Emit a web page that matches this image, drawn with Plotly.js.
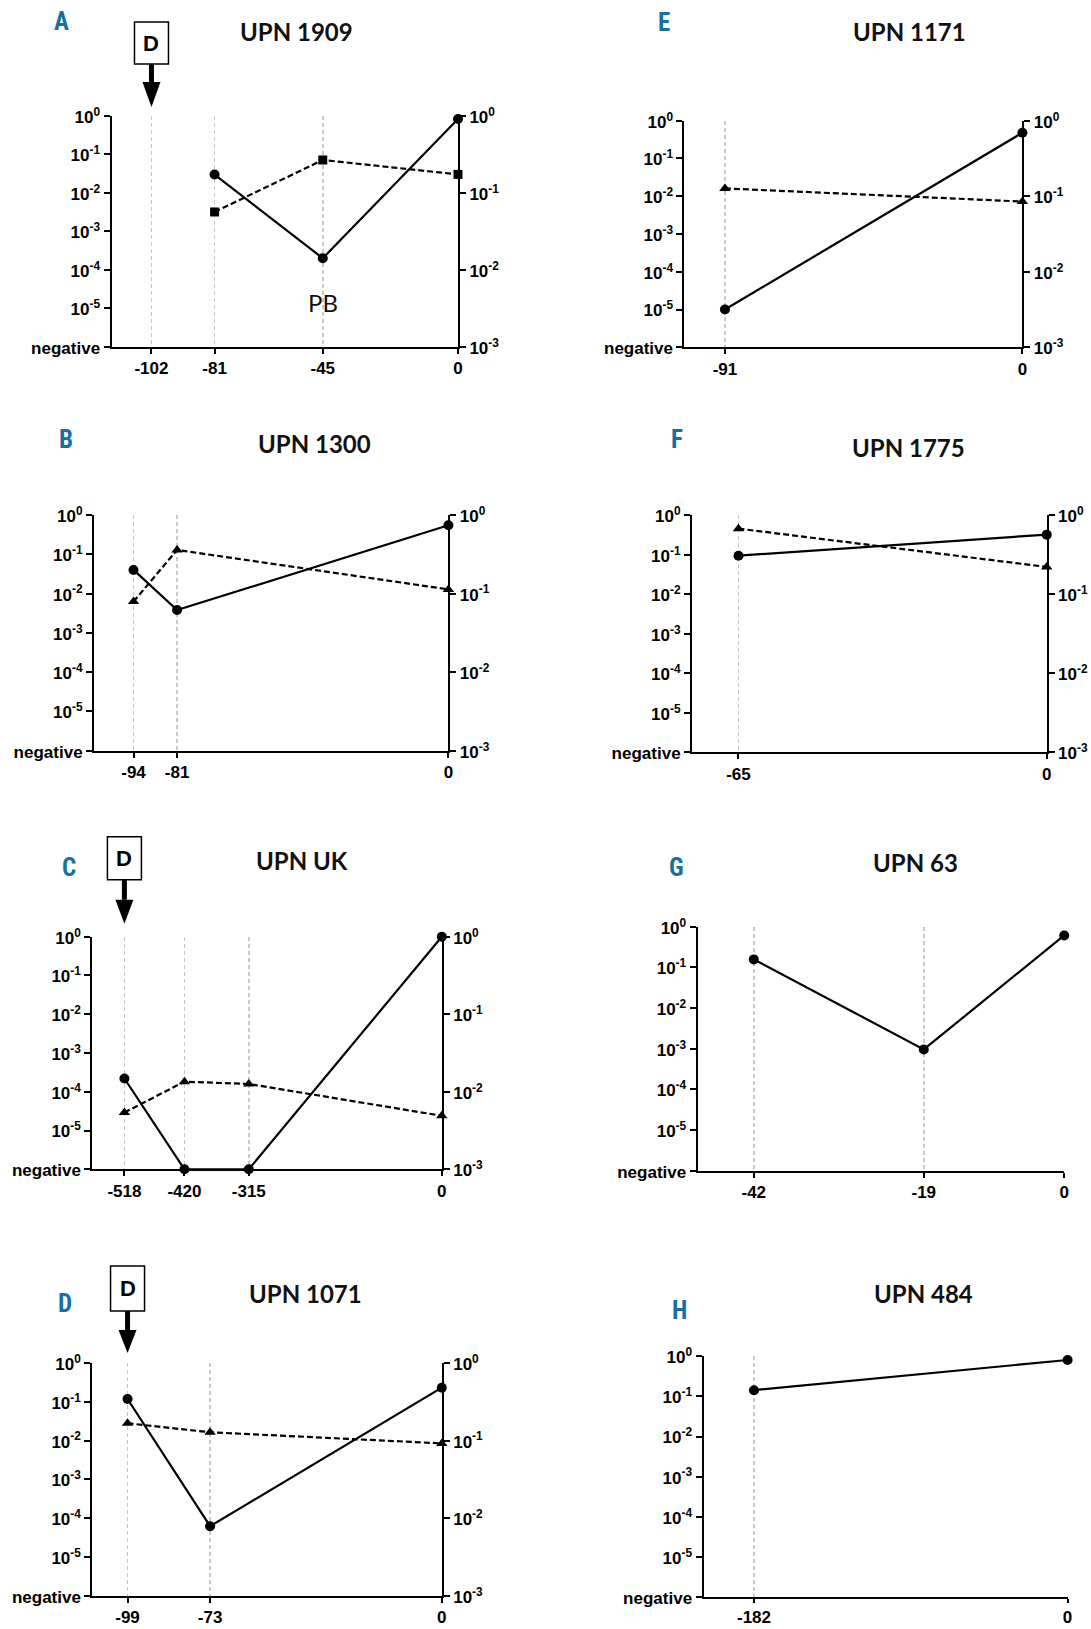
<!DOCTYPE html>
<html><head><meta charset="utf-8">
<script src="https://cdn.plot.ly/plotly-3.0.1.min.js"></script>
<style>body{margin:0;background:#fff}#chart{width:1091px;height:1629px}</style>
</head><body><div id="chart"></div>
<script>
const W = 1091, H = 1629;
const NEG = 1e-6; // "negative" row on the left axis

// ---------- data ----------
// A: UPN 1909
const ticksA = [-102, -81, -45, 0];
const daysA = [-81, -45, 0];
const solidA = [0.030, 0.0002, 0.835];
const dashA = [0.0565, 0.268, 0.174];
// E: UPN 1171
const ticksE = [-91, 0];
const daysE = [-91, 0];
const solidE = [0.00001, 0.48];
const dashE = [0.127, 0.085];
// B: UPN 1300
const ticksB = [-94, -81, 0];
const daysB = [-94, -81, 0];
const solidB = [0.040, 0.0038, 0.546];
const dashB = [0.079, 0.359, 0.113];
// F: UPN 1775
const ticksF = [-65, 0];
const daysF = [-65, 0];
const solidF = [0.095, 0.324];
const dashF = [0.678, 0.222];
// C: UPN UK
const ticksC = [-518, -420, -315, 0];
const daysC = [-518, -420, -315, 0];
const solidC = [0.00022, NEG, NEG, 1.0];
const dashC = [0.0054, 0.0135, 0.0126, 0.0049];
// G: UPN 63
const ticksG = [-42, -19, 0];
const daysG = [-42, -19, 0];
const solidG = [0.157, 0.00096, 0.61];
// D: UPN 1071
const ticksD = [-99, -73, 0];
const daysD = [-99, -73, 0];
const solidD = [0.118, 0.000062, 0.231];
const dashD = [0.167, 0.128, 0.092];
// H: UPN 484
const ticksH = [-182, 0];
const daysH = [-182, 0];
const solidH = [0.143, 0.81];

const leftTickVals = [1e-6, 1e-5, 1e-4, 1e-3, 1e-2, 1e-1, 1];
const leftTickText = ['negative', '10<sup>-5</sup>', '10<sup>-4</sup>', '10<sup>-3</sup>', '10<sup>-2</sup>', '10<sup>-1</sup>', '10<sup>0</sup>'];
const rightTickVals = [1e-3, 1e-2, 1e-1, 1];
const rightTickText = ['10<sup>-3</sup>', '10<sup>-2</sup>', '10<sup>-1</sup>', '10<sup>0</sup>'];

// ---------- panel layout (pixels) ----------
const panels = [
  {letter:'A', title:'UPN 1909', ticks:ticksA, sx:daysA, sy:solidA, dx:daysA, dy:dashA, sym:'square', xmin:-115.3,
   box:[111.5, 458, 116, 346.7], t:[296, 32], l:[61, 22], dmark:{at:-102, top:94, bot:52, base:34, tip:9}, pb:{at:-45, y:303}},
  {letter:'E', title:'UPN 1171', ticks:ticksE, sx:daysE, sy:solidE, dx:daysE, dy:dashE, sym:'triangle-up', xmin:-103.4,
   box:[684.4, 1022.4, 120.7, 347.3], t:[909, 32], l:[663.5, 23]},
  {letter:'B', title:'UPN 1300', ticks:ticksB, sx:daysB, sy:solidB, dx:daysB, dy:dashB, sym:'triangle-up', xmin:-105.8,
   box:[94, 448.4, 515, 750.7], t:[314, 443], l:[65.5, 440]},
  {letter:'F', title:'UPN 1775', ticks:ticksF, sx:daysF, sy:solidF, dx:daysF, dy:dashF, sym:'triangle-up', xmin:-74.8,
   box:[692, 1046.7, 515.3, 752.3], t:[908, 447], l:[677.4, 440]},
  {letter:'C', title:'UPN UK', ticks:ticksC, sx:daysC, sy:solidC, dx:daysC, dy:dashC, sym:'triangle-up', xmin:-570.4,
   box:[92.3, 441.8, 936.7, 1169.3], t:[302, 860], l:[69, 867], dmark:{at:-518, top:100, bot:57, base:37, tip:13}},
  {letter:'G', title:'UPN 63', ticks:ticksG, sx:daysG, sy:solidG, xmin:-49.6,
   box:[697.6, 1064.2, 926.7, 1170.7], t:[915, 862], l:[676.4, 867]},
  {letter:'D', title:'UPN 1071', ticks:ticksD, sx:daysD, sy:solidD, dx:daysD, dy:dashD, sym:'triangle-up', xmin:-110.1,
   box:[92.3, 441.8, 1363, 1595.7], t:[305, 1293], l:[64.5, 1303], dmark:{at:-99, top:97, bot:52, base:33, tip:10}},
  {letter:'H', title:'UPN 484', ticks:ticksH, sx:daysH, sy:solidH, xmin:-211.3,
   box:[703.5, 1067.6, 1356.3, 1597], t:[923, 1293], l:[679, 1310], xtl:4}
];

const tickFont = {family:'Liberation Sans, Arial, sans-serif', size:17, color:'#000', weight:'bold'};
const px = v => v / W;
const py = v => 1 - v / H;

const layout = {
  width: W, height: H,
  margin: {l:0, r:0, t:0, b:0},
  paper_bgcolor: '#fff', plot_bgcolor: 'rgba(0,0,0,0)',
  showlegend: false,
  annotations: [], shapes: []
};
const data = [];

panels.forEach((p, i) => {
  const n = i + 1;
  const xid = n === 1 ? 'x' : 'x' + n;
  const yid = n === 1 ? 'y' : 'y' + n;
  const rid = 'y' + (n + 8);
  const [x0, x1, y0, y1] = p.box;

  layout['xaxis' + (n === 1 ? '' : n)] = {
    domain: [px(x0), px(x1)], range: [p.xmin, 0], anchor: yid,
    tickvals: p.ticks, ticktext: p.ticks.map(String),
    showline: true, linewidth: 2, linecolor: '#000',
    ticks: 'outside', ticklen: p.xtl || 5, tickwidth: 2, tickcolor: '#000',
    showgrid: true, griddash: '4px,3px', gridcolor: '#c8c8c8', gridwidth: 1.5,
    zeroline: false, tickfont: tickFont, fixedrange: true
  };
  layout['yaxis' + (n === 1 ? '' : n)] = {
    domain: [py(y1), py(y0)], type: 'log', range: [-6, 0], anchor: xid,
    tickvals: leftTickVals, ticktext: leftTickText,
    showline: true, linewidth: 2, linecolor: '#000',
    ticks: 'outside', ticklen: 6, tickwidth: 2, tickcolor: '#000',
    ticklabelshift: 1,
    showgrid: false, zeroline: false, tickfont: tickFont, fixedrange: true
  };

  data.push({
    x: p.sx, y: p.sy, xaxis: xid, yaxis: yid, type: 'scatter', mode: 'lines+markers',
    line: {color: '#000', width: 2.2}, marker: {symbol: 'circle', size: 10, color: '#000'},
    cliponaxis: false, hoverinfo: 'skip'
  });

  if (p.dy) {
    layout['yaxis' + (n + 8)] = {
      overlaying: yid, side: 'right', anchor: xid, type: 'log', range: [-3, 0],
      tickvals: rightTickVals, ticktext: rightTickText,
      showline: true, linewidth: 2, linecolor: '#000',
      ticks: 'outside', ticklen: 6, tickwidth: 2, tickcolor: '#000',
      ticklabelshift: 1,
      showgrid: false, zeroline: false, tickfont: tickFont, fixedrange: true
    };
    data.push({
      x: p.dx, y: p.dy, xaxis: xid, yaxis: rid, type: 'scatter', mode: 'lines+markers',
      line: {color: '#000', width: 2.2, dash: '6px,3px'},
      marker: {symbol: p.sym, size: p.sym === 'square' ? 9 : 10, color: '#000'},
      cliponaxis: false, hoverinfo: 'skip'
    });
  }

  // panel letter
  layout.annotations.push({
    xref: 'paper', yref: 'paper', x: px(p.l[0]), y: py(p.l[1]), xanchor: 'center', yanchor: 'middle',
    text: p.letter, showarrow: false,
    font: {family: 'Liberation Sans Narrow, Roboto Condensed, Arial Narrow, sans-serif', size: 25, color: '#17709f', weight: 'bold'}
  });
  // title
  layout.annotations.push({
    xref: 'paper', yref: 'paper', x: px(p.t[0]), y: py(p.t[1]), xanchor: 'center', yanchor: 'middle',
    text: p.title, showarrow: false,
    font: {family: 'Lato, Open Sans, sans-serif', size: 24, color: '#111', weight: 'bold'}
  });

  if (p.pb) {
    layout.annotations.push({
      xref: xid, yref: 'paper', x: p.pb.at, y: py(p.pb.y), xanchor: 'center', yanchor: 'middle',
      text: 'PB', showarrow: false,
      font: {family: 'Lato, Open Sans, sans-serif', size: 24, color: '#111'}
    });
  }

  if (p.dmark) {
    const d = p.dmark;
    const topPx = y0;
    layout.shapes.push({
      type: 'rect', xref: xid, xsizemode: 'pixel', xanchor: d.at, x0: -17, x1: 17,
      yref: 'paper', y0: py(topPx - d.bot), y1: py(topPx - d.top),
      line: {color: '#000', width: 1.5}, fillcolor: '#fff', layer: 'above'
    });
    layout.shapes.push({
      type: 'rect', xref: xid, xsizemode: 'pixel', xanchor: d.at, x0: -2.5, x1: 2.5,
      yref: 'paper', y0: py(topPx - d.base), y1: py(topPx - d.bot),
      line: {width: 0}, fillcolor: '#000', layer: 'above'
    });
    layout.shapes.push({
      type: 'path', xref: xid, xsizemode: 'pixel', xanchor: d.at,
      yref: 'paper',
      path: `M -9,${py(topPx - d.base)} L 9,${py(topPx - d.base)} L 0,${py(topPx - d.tip)} Z`,
      line: {width: 0}, fillcolor: '#000', layer: 'above'
    });
    layout.annotations.push({
      xref: xid, yref: 'paper', x: d.at, y: py(topPx - (d.top + d.bot) / 2), xanchor: 'center', yanchor: 'middle',
      text: 'D', showarrow: false,
      font: {family: 'Liberation Sans, Arial, sans-serif', size: 22, color: '#000', weight: 'bold'}
    });
  }
});

Plotly.newPlot('chart', data, layout, {staticPlot: true, displayModeBar: false});
</script>
</body></html>
